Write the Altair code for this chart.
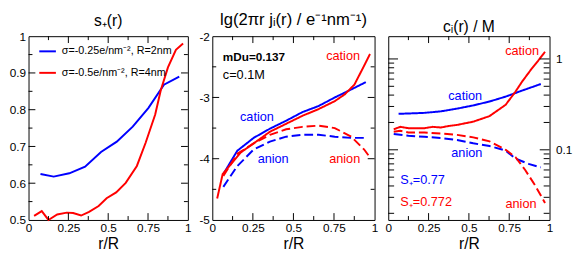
import altair as alt
import pandas as pd

FONT = "Liberation Sans"
BLUE = "#0000ff"
RED = "#ff0000"

# ---------------- data ----------------
# panel 1: s+(r)
p1_blue_r = [0.075, 0.158, 0.256, 0.355, 0.455, 0.554, 0.654, 0.753, 0.85, 0.946]
p1_blue_s = [0.625, 0.618, 0.627, 0.645, 0.685, 0.713, 0.754, 0.805, 0.868, 0.89]
p1_red_r = [0.035, 0.083, 0.125, 0.18, 0.24, 0.28, 0.33, 0.38, 0.44, 0.49, 0.55,
            0.61, 0.68, 0.735, 0.795, 0.83, 0.875, 0.925, 0.97]
p1_red_s = [0.511, 0.524, 0.50, 0.515, 0.52, 0.519, 0.512, 0.522, 0.538, 0.559, 0.575,
            0.601, 0.647, 0.71, 0.787, 0.853, 0.915, 0.963, 0.98]
systems = ["σ=-0.25e/nm⁻², R=2nm", "σ=-0.5e/nm⁻², R=4nm"]

# panel 2: lg(2πr j_i(r))
p2_blue_cat_r = [0.068, 0.154, 0.255, 0.355, 0.455, 0.555, 0.655, 0.755, 0.856, 0.946]
p2_blue_cat_y = [-4.25, -3.87, -3.66, -3.51, -3.38, -3.24, -3.14, -3.0, -2.87, -2.75]
p2_red_cat_r = [0.03, 0.064, 0.174, 0.255, 0.355, 0.455, 0.555, 0.655, 0.755, 0.816, 0.876, 0.936, 0.972]
p2_red_cat_y = [-4.65, -4.25, -3.9, -3.75, -3.56, -3.43, -3.30, -3.19, -3.06, -2.95, -2.79, -2.48, -2.29]
p2_blue_an_r = [0.068, 0.154, 0.255, 0.355, 0.455, 0.555, 0.655, 0.755, 0.856, 0.946]
p2_blue_an_y = [-4.46, -4.12, -3.85, -3.72, -3.64, -3.61, -3.61, -3.64, -3.66, -3.66]
p2_red_an_r = [0.068, 0.154, 0.255, 0.355, 0.455, 0.555, 0.655, 0.755, 0.856, 0.936, 0.972]
p2_red_an_y = [-4.28, -3.92, -3.75, -3.61, -3.52, -3.48, -3.46, -3.5, -3.64, -3.85, -3.98]

# panel 3: c_i(r) / M
p3_blue_cat_r = [0.064, 0.125, 0.225, 0.326, 0.427, 0.527, 0.628, 0.728, 0.829, 0.946]
p3_blue_cat_c = [0.249, 0.251, 0.255, 0.265, 0.284, 0.308, 0.34, 0.385, 0.448, 0.53]
p3_red_cat_r = [0.034, 0.074, 0.125, 0.225, 0.276, 0.326, 0.376, 0.427, 0.527, 0.628,
                0.728, 0.789, 0.829, 0.889, 0.93, 0.972]
p3_red_cat_c = [0.168, 0.179, 0.173, 0.173, 0.179, 0.176, 0.183, 0.188, 0.204, 0.235,
                0.313, 0.437, 0.56, 0.78, 0.96, 1.2]
p3_blue_an_r = [0.034, 0.125, 0.225, 0.326, 0.427, 0.527, 0.628, 0.728, 0.789, 0.87, 0.946]
p3_blue_an_c = [0.149, 0.143, 0.139, 0.135, 0.128, 0.118, 0.11, 0.098, 0.080, 0.070, 0.064]
p3_red_an_r = [0.034, 0.074, 0.125, 0.225, 0.326, 0.427, 0.527, 0.628, 0.728, 0.789,
               0.849, 0.909, 0.972]
p3_red_an_c = [0.158, 0.162, 0.155, 0.155, 0.151, 0.146, 0.137, 0.124, 0.1, 0.083,
               0.06, 0.041, 0.026]

# annotations (data coordinates)
p2_labels = ["cation", "anion", "cation", "anion"]
p2_label_sys = [0, 0, 1, 1]
p2_label_r = [0.275, 0.375, 0.806, 0.816]
p2_label_y = [-3.32, -4.0, -2.32, -4.01]
p2_info = ["mDu=0.137", "c=0.1M"]
p2_info_r = [0.065, 0.065]
p2_info_y = [-2.34, -2.63]

p3_labels = ["cation", "anion", "cation", "anion"]
p3_label_sys = [0, 0, 1, 1]
p3_label_r = [0.477, 0.487, 0.83, 0.823]
p3_label_c = [0.386, 0.091, 1.23, 0.025]
p3_s_texts = ["S₊=0.77", "S₊=0.772"]
p3_s_sys = [0, 1]
p3_s_r = [0.075, 0.075]
p3_s_c = [0.047, 0.0266]

# axis ticks
x_labels = [0, 0.25, 0.5, 0.75, 1]
x_major = [0.25, 0.5, 0.75]
x_minor = [0.125, 0.375, 0.625, 0.875]
p1_y_labels = [0.5, 0.6, 0.7, 0.8, 0.9, 1.0]
p1_y_major = [0.6, 0.7, 0.8, 0.9]
p1_y_minor = [0.55, 0.65, 0.75, 0.85, 0.95]
p2_y_labels = [-5, -4, -3, -2]
p2_y_major = [-4, -3]
p2_y_minor = [-4.5, -3.5, -2.5]
p3_y_labels = [0.1, 1]
p3_y_major = [0.1, 1]
p3_y_minor = [0.02, 0.03, 0.04, 0.05, 0.06, 0.07, 0.08, 0.09,
              0.2, 0.3, 0.4, 0.5, 0.6, 0.7, 0.8, 0.9]

H = 188
W1, W2, W3 = 163, 166, 165
LBL = "'' + datum.value"


def line_df(r, y, sysname, ion):
    return pd.DataFrame({"r": r, "y": y, "sys": sysname, "ion": ion})


def tick_layers(xs, ys, W, Lx_major, Lx_minor, Ly_major, Ly_minor, xscale, yscale, xaxis, yaxis):
    xe = lambda: alt.X("r:Q", scale=xscale, axis=xaxis)
    ye = lambda: alt.Y("y:Q", scale=yscale, axis=yaxis)
    layers = []
    xmaj = pd.DataFrame({"r": xs[0]})
    xmin = pd.DataFrame({"r": xs[1]})
    ymaj = pd.DataFrame({"y": ys[0]})
    ymin = pd.DataFrame({"y": ys[1]})
    rule = dict(color="black", strokeWidth=1)
    for df, L in ((xmaj, Lx_major), (xmin, Lx_minor)):
        layers.append(alt.Chart(df).mark_rule(**rule).encode(
            x=xe(), y=alt.value(H), y2=alt.value(H - L)))
        layers.append(alt.Chart(df).mark_rule(**rule).encode(
            x=xe(), y=alt.value(0), y2=alt.value(L)))
    for df, L in ((ymaj, Ly_major), (ymin, Ly_minor)):
        layers.append(alt.Chart(df).mark_rule(**rule).encode(
            y=ye(), x=alt.value(0), x2=alt.value(L)))
        layers.append(alt.Chart(df).mark_rule(**rule).encode(
            y=ye(), x=alt.value(W), x2=alt.value(W - L)))
    return layers


xscale = alt.Scale(domain=[0, 1], nice=False, zero=False)
xaxis = alt.Axis(values=x_labels, labelExpr=LBL, title="r/R", ticks=False, domain=False,
                 grid=False, labelFlush=False, labelOverlap=False, labelPadding=3, titlePadding=2)

# ---------------- panel 1 ----------------
p1_df = pd.concat([line_df(p1_blue_r, p1_blue_s, systems[0], "cation"),
                   line_df(p1_red_r, p1_red_s, systems[1], "cation")])
y1scale = alt.Scale(domain=[0.5, 1.0], nice=False, zero=False)
y1axis = alt.Axis(values=p1_y_labels, labelExpr=LBL, title="", ticks=False, domain=False,
                  grid=False, labelPadding=3, labelOverlap=False)
p1_lines = alt.Chart(p1_df).mark_line(strokeWidth=2).encode(
    x=alt.X("r:Q", scale=xscale, axis=xaxis),
    y=alt.Y("y:Q", scale=y1scale, axis=y1axis),
    color=alt.Color("sys:N", scale=alt.Scale(domain=systems, range=[BLUE, RED]),
                    legend=alt.Legend(title=None, orient="none", legendX=10, legendY=6,
                                      symbolType="stroke", symbolSize=289, symbolStrokeWidth=2,
                                      labelFont=FONT, labelFontSize=11, labelOffset=5,
                                      rowPadding=7, padding=0)),
)
p1 = alt.layer(p1_lines, *tick_layers((x_major, x_minor), (p1_y_major, p1_y_minor), W1,
                                      7, 4, 7, 4, xscale, y1scale, xaxis, y1axis)).properties(
    width=W1, height=H, title="s₊(r)")

# ---------------- panel 2 ----------------
p2_df = pd.concat([line_df(p2_blue_cat_r, p2_blue_cat_y, systems[0], "cation"),
                   line_df(p2_blue_an_r, p2_blue_an_y, systems[0], "anion"),
                   line_df(p2_red_cat_r, p2_red_cat_y, systems[1], "cation"),
                   line_df(p2_red_an_r, p2_red_an_y, systems[1], "anion")])
y2scale = alt.Scale(domain=[-5, -2], nice=False, zero=False)
y2axis = alt.Axis(values=p2_y_labels, labelExpr=LBL, title="", ticks=False,
                  domain=False, grid=False, labelPadding=3, labelOverlap=False)
color_nolegend = alt.Color("sys:N", scale=alt.Scale(domain=systems, range=[BLUE, RED]), legend=None)
dash_enc = alt.StrokeDash("ion:N", scale=alt.Scale(domain=["cation", "anion"], range=[[1, 0], [9, 4]]),
                          legend=None)
p2_lines = alt.Chart(p2_df).mark_line(strokeWidth=2).encode(
    x=alt.X("r:Q", scale=xscale, axis=xaxis),
    y=alt.Y("y:Q", scale=y2scale, axis=y2axis),
    color=color_nolegend, strokeDash=dash_enc,
)
p2_lab_df = pd.DataFrame({"r": p2_label_r, "y": p2_label_y, "t": p2_labels,
                          "sys": [systems[i] for i in p2_label_sys]})
p2_text = alt.Chart(p2_lab_df).mark_text(font=FONT, fontSize=13).encode(
    x=alt.X("r:Q", scale=xscale, axis=xaxis), y=alt.Y("y:Q", scale=y2scale, axis=y2axis),
    text="t:N", color=color_nolegend)
p2_info_df = pd.DataFrame({"r": p2_info_r, "y": p2_info_y, "t": p2_info})
p2_info1 = alt.Chart(p2_info_df.iloc[:1]).mark_text(font=FONT, fontSize=12, fontWeight="bold",
                                                    align="left", color="black").encode(
    x=alt.X("r:Q", scale=xscale, axis=xaxis), y=alt.Y("y:Q", scale=y2scale, axis=y2axis), text="t:N")
p2_info2 = alt.Chart(p2_info_df.iloc[1:]).mark_text(font=FONT, fontSize=13,
                                                    align="left", color="black").encode(
    x=alt.X("r:Q", scale=xscale, axis=xaxis), y=alt.Y("y:Q", scale=y2scale, axis=y2axis), text="t:N")
p2 = alt.layer(p2_lines, p2_text, p2_info1, p2_info2,
               *tick_layers((x_major, x_minor), (p2_y_major, p2_y_minor), W2,
                            7, 4, 7, 4, xscale, y2scale, xaxis, y2axis)).properties(
    width=W2, height=H, title=alt.Title("lg(2πr jᵢ(r) / e⁻¹nm⁻¹)", fontSize=17))

# ---------------- panel 3 ----------------
p3_df = pd.concat([line_df(p3_blue_cat_r, p3_blue_cat_c, systems[0], "cation"),
                   line_df(p3_blue_an_r, p3_blue_an_c, systems[0], "anion"),
                   line_df(p3_red_cat_r, p3_red_cat_c, systems[1], "cation"),
                   line_df(p3_red_an_r, p3_red_an_c, systems[1], "anion")])
y3scale = alt.Scale(type="log", domain=[0.0169, 1.78], nice=False)
y3axis = alt.Axis(values=p3_y_labels, labelExpr=LBL, orient="right", title="", ticks=False,
                  domain=False, grid=False, labelPadding=6, labelOverlap=False)
p3_lines = alt.Chart(p3_df).mark_line(strokeWidth=2).encode(
    x=alt.X("r:Q", scale=xscale, axis=xaxis),
    y=alt.Y("y:Q", scale=y3scale, axis=y3axis),
    color=color_nolegend, strokeDash=dash_enc,
)
p3_lab_df = pd.DataFrame({"r": p3_label_r, "y": p3_label_c, "t": p3_labels,
                          "sys": [systems[i] for i in p3_label_sys]})
p3_text = alt.Chart(p3_lab_df).mark_text(font=FONT, fontSize=13).encode(
    x=alt.X("r:Q", scale=xscale, axis=xaxis), y=alt.Y("y:Q", scale=y3scale, axis=y3axis),
    text="t:N", color=color_nolegend)
p3_s_df = pd.DataFrame({"r": p3_s_r, "y": p3_s_c, "t": p3_s_texts,
                        "sys": [systems[i] for i in p3_s_sys]})
p3_s = alt.Chart(p3_s_df).mark_text(font=FONT, fontSize=13, align="left").encode(
    x=alt.X("r:Q", scale=xscale, axis=xaxis), y=alt.Y("y:Q", scale=y3scale, axis=y3axis),
    text="t:N", color=color_nolegend)
p3 = alt.layer(p3_lines, p3_text, p3_s,
               *tick_layers((x_major, x_minor), (p3_y_major, p3_y_minor), W3,
                            7, 4, 10, 6, xscale, y3scale, xaxis, y3axis)).properties(
    width=W3, height=H, title="cᵢ(r) / M")

chart = alt.hconcat(p1, p2, p3, spacing=6).properties(
    padding={"left": 0, "top": 0, "right": 0, "bottom": 0}
).configure_view(stroke="black", strokeWidth=1).configure_axis(
    labelFont=FONT, labelFontSize=12, labelColor="black",
    titleFont=FONT, titleFontSize=16, titleFontWeight="normal", titleColor="black",
).configure_title(font=FONT, fontSize=16, fontWeight="normal", color="black", offset=1)

chart.save("out.html", embed_options={"renderer": "svg", "actions": False})
